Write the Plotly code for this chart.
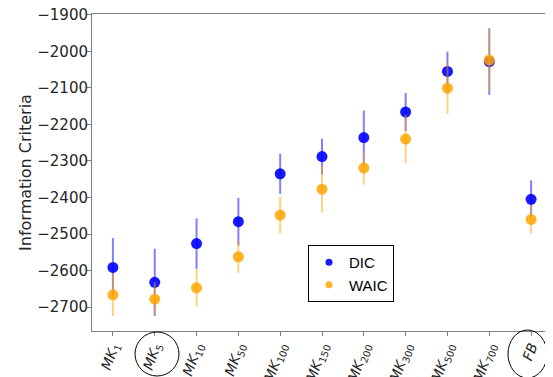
import plotly.graph_objects as go

categories = ["MK1", "MK5", "MK10", "MK50", "MK100", "MK150", "MK200", "MK300", "MK500", "MK700", "FB"]
tick_labels = ["<i>MK</i><sub>1</sub>", "<i>MK</i><sub>5</sub>", "<i>MK</i><sub>10</sub>",
               "<i>MK</i><sub>50</sub>", "<i>MK</i><sub>100</sub>", "<i>MK</i><sub>150</sub>",
               "<i>MK</i><sub>200</sub>", "<i>MK</i><sub>300</sub>", "<i>MK</i><sub>500</sub>",
               "<i>MK</i><sub>700</sub>", "<i>FB</i>"]
dic = [-2591, -2632, -2526, -2466, -2335, -2288, -2236, -2166, -2055, -2028, -2405]
dic_err = [80, 92, 69, 65, 55, 49, 74, 52, 54, 91, 52]
waic = [-2666, -2678, -2647, -2562, -2448, -2377, -2319, -2240, -2101, -2024, -2460]
waic_err = [58, 46, 51, 44, 50, 64, 46, 67, 70, 85, 38]
y_ticks = [-2700, -2600, -2500, -2400, -2300, -2200, -2100, -2000, -1900]

xs = list(range(len(categories)))
FONT = "DejaVu Sans"
BLUE_M, BLUE_E = "rgba(0,0,255,0.9)", "rgba(0,0,255,0.5)"
ORNG_M, ORNG_E = "rgba(255,165,0,0.85)", "rgba(255,165,0,0.5)"

fig = go.Figure()
fig.add_trace(go.Scatter(
    x=xs, y=dic, mode="markers", name="DIC", showlegend=False,
    marker=dict(color=BLUE_M, size=11),
    error_y=dict(type="data", array=dic_err, symmetric=True,
                 color=BLUE_E, thickness=2, width=0),
))
fig.add_trace(go.Scatter(
    x=xs, y=waic, mode="markers", name="WAIC", showlegend=False,
    marker=dict(color=ORNG_M, size=11),
    error_y=dict(type="data", array=waic_err, symmetric=True,
                 color=ORNG_E, thickness=2, width=0),
))
# legend entries (small markers like the reference legend)
fig.add_trace(go.Scatter(x=[None], y=[None], mode="markers", name="DIC",
                         marker=dict(color=BLUE_M, size=7)))
fig.add_trace(go.Scatter(x=[None], y=[None], mode="markers", name="WAIC",
                         marker=dict(color=ORNG_M, size=7)))

axis_common = dict(showline=True, linecolor="#808080", linewidth=1, mirror=True,
                   ticks="outside", tickcolor="#808080", ticklen=4,
                   showgrid=False, zeroline=False, ticklabeloverflow="allow")

# page body has an 8px default margin: figure is offset by 8px, so it is sized
# and its margins are set to place the plot area where the reference has it
fig.update_layout(
    width=545, height=369,
    margin=dict(l=84, r=1, t=6, b=46, autoexpand=False),
    plot_bgcolor="white", paper_bgcolor="white",
    font=dict(family=FONT, size=15, color="#262626"),
    xaxis=dict(range=[-0.5, 10.5], tickmode="array", tickvals=xs, ticktext=tick_labels,
               tickangle=-70, automargin=False, ticklabelstandoff=-3,
               tickfont=dict(family=FONT, size=14, color="#262626"), **axis_common),
    yaxis=dict(range=[-2765, -1898], tickmode="array", tickvals=y_ticks,
               ticktext=[f"\u2212{abs(v)}" for v in y_ticks],
               tickfont=dict(family=FONT, size=15, color="#262626"),
               ticklabelstandoff=-4,
               title=dict(text="Information Criteria", standoff=1, font=dict(family=FONT, size=16)),
               automargin=False, **axis_common),
    legend=dict(x=0.4696, y=0.271, xanchor="left", yanchor="top",
                bordercolor="black", borderwidth=1, bgcolor="white",
                font=dict(family="Liberation Sans", size=15, color="black"),
                tracegroupgap=0, itemwidth=30),
    showlegend=True,
    shapes=[
        dict(type="circle", xref="paper", yref="paper",
             x0=(135 - 92) / 460, x1=(179 - 92) / 460,
             y0=(331 - 376) / 317, y1=(331 - 332) / 317,
             line=dict(color="black", width=1)),
        dict(type="circle", xref="paper", yref="paper",
             x0=(508 - 92) / 460, x1=(547 - 92) / 460,
             y0=(331 - 378) / 317, y1=(331 - 330) / 317,
             line=dict(color="black", width=1)),
    ],
)

fig.write_html("out.html")
